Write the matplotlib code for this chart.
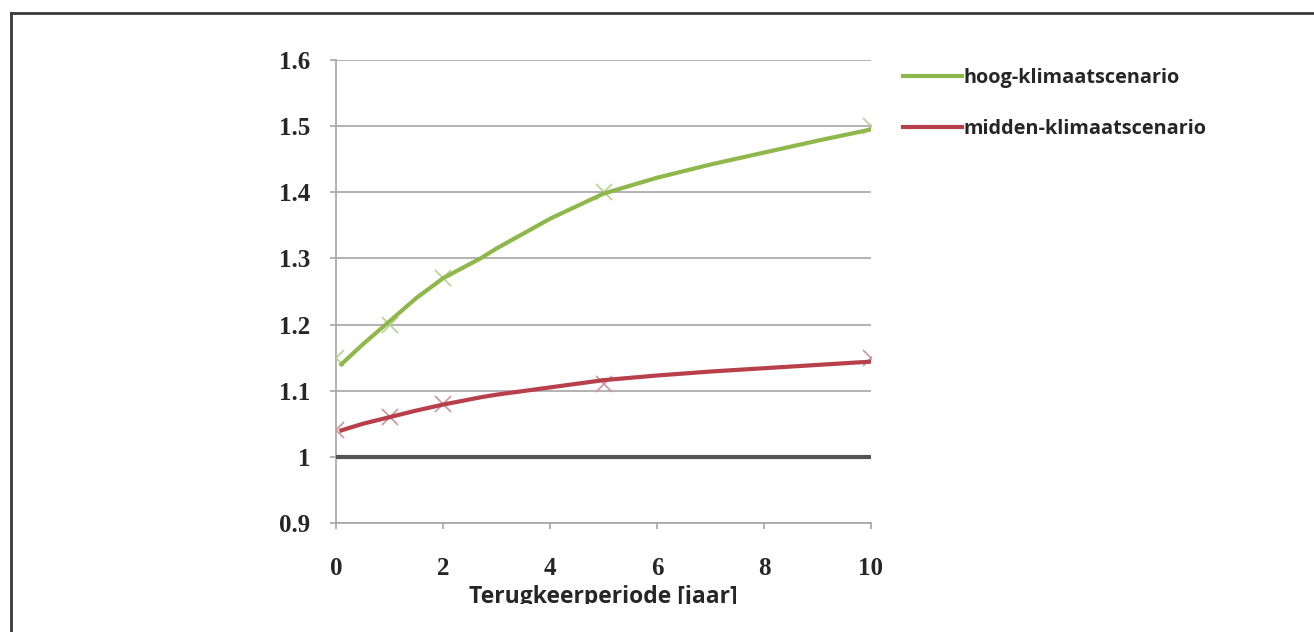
import matplotlib
matplotlib.use("Agg")
import matplotlib.pyplot as plt
from matplotlib.transforms import Bbox

# -------------------------
# Data
# -------------------------
periods = [0, 1, 2, 5, 10]
hoog_points = [1.15, 1.20, 1.27, 1.40, 1.50]
midden_points = [1.04, 1.06, 1.08, 1.11, 1.15]

# smooth trend lines, sampled by eye
curve_x = [0.1, 0.5, 1, 1.5, 2, 2.7, 3, 4, 5, 6, 7, 8, 9, 10]
hoog_curve = [1.14, 1.17, 1.205, 1.24, 1.27, 1.30, 1.315, 1.36, 1.398, 1.422,
              1.442, 1.46, 1.478, 1.495]
midden_curve = [1.04, 1.05, 1.06, 1.07, 1.079, 1.09, 1.094, 1.105, 1.116, 1.123,
                1.129, 1.134, 1.139, 1.144]

baseline_x = [0, 10]
baseline_y = [1, 1]

x_ticks = [0, 2, 4, 6, 8, 10]
y_ticks = [0.9, 1.0, 1.1, 1.2, 1.3, 1.4, 1.5, 1.6]
y_labels = ["0.9", "1", "1.1", "1.2", "1.3", "1.4", "1.5", "1.6"]

labels = ["hoog-klimaatscenario", "midden-klimaatscenario"]

# -------------------------
# Plot
# -------------------------
W, H = 1314, 632
fig = plt.figure(figsize=(W / 100, H / 100), dpi=100)
ax = fig.add_axes([336 / W, (H - 523) / H, 535 / W, 463 / H])

green = "#8fb84c"
red = "#b8404a"

ax.plot(baseline_x, baseline_y, color="#555555", lw=3, zorder=3, solid_capstyle="butt")
ax.plot(periods, hoog_points, ls="none", marker="x", ms=12, mew=1.2,
        color="#b8d190", zorder=4)
ax.plot(periods, midden_points, ls="none", marker="x", ms=12, mew=1.2,
        color="#d0949a", zorder=4)
ax.plot(curve_x, hoog_curve, color=green, lw=3, zorder=5, label=labels[0])
ax.plot(curve_x, midden_curve, color=red, lw=3, zorder=5, label=labels[1])

ax.set_xlim(0, 10)
ax.set_ylim(0.9, 1.6)
ax.set_xticks(x_ticks)
ax.set_yticks(y_ticks)
ax.set_yticklabels(y_labels)

ax.yaxis.grid(True, color="#a6a6a6", lw=1.2)
ax.set_axisbelow(True)
for side in ["top", "right"]:
    ax.spines[side].set_visible(False)
for side in ["left", "bottom"]:
    ax.spines[side].set_color("#a6a6a6")
    ax.spines[side].set_linewidth(1.2)
ax.tick_params(axis="both", direction="out", length=4.5, width=1.2, color="#a6a6a6")
ax.tick_params(axis="y", pad=14)
ax.tick_params(axis="x", pad=20)

for lab in ax.get_xticklabels() + ax.get_yticklabels():
    lab.set_family("Liberation Serif")
    lab.set_fontweight("bold")
    lab.set_fontsize(18)
    lab.set_color("#262626")

# axis title, cut off at the bottom like in the source
t = fig.text(603 / W, 1 - 603 / H, "Terugkeerperiode [jaar]", ha="center", va="baseline",
             fontsize=16.5, fontweight="bold", family="Open Sans", color="#262626")
t.set_clip_box(Bbox.from_extents(0, H - 604, W, H))
t.set_clip_on(True)

leg = fig.legend(*ax.get_legend_handles_labels(), loc="upper left",
                 bbox_to_anchor=(903 / W, 1 - 68 / H), bbox_transform=fig.transFigure,
                 frameon=False, borderpad=0, borderaxespad=0,
                 handlelength=2.95, handletextpad=0.1, labelspacing=1.55,
                 prop={"family": "Open Sans", "weight": "bold", "size": 14.3})
for txt in leg.get_texts():
    txt.set_color("#262626")

# outer frame (top and left edges only)
fig.add_artist(plt.Line2D([11 / W, 1], [1 - 13 / H, 1 - 13 / H], color="#3a3a3a", lw=2))
fig.add_artist(plt.Line2D([11 / W, 11 / W], [0, 1 - 13 / H], color="#3a3a3a", lw=2))

fig.savefig("out.png", dpi=100)
